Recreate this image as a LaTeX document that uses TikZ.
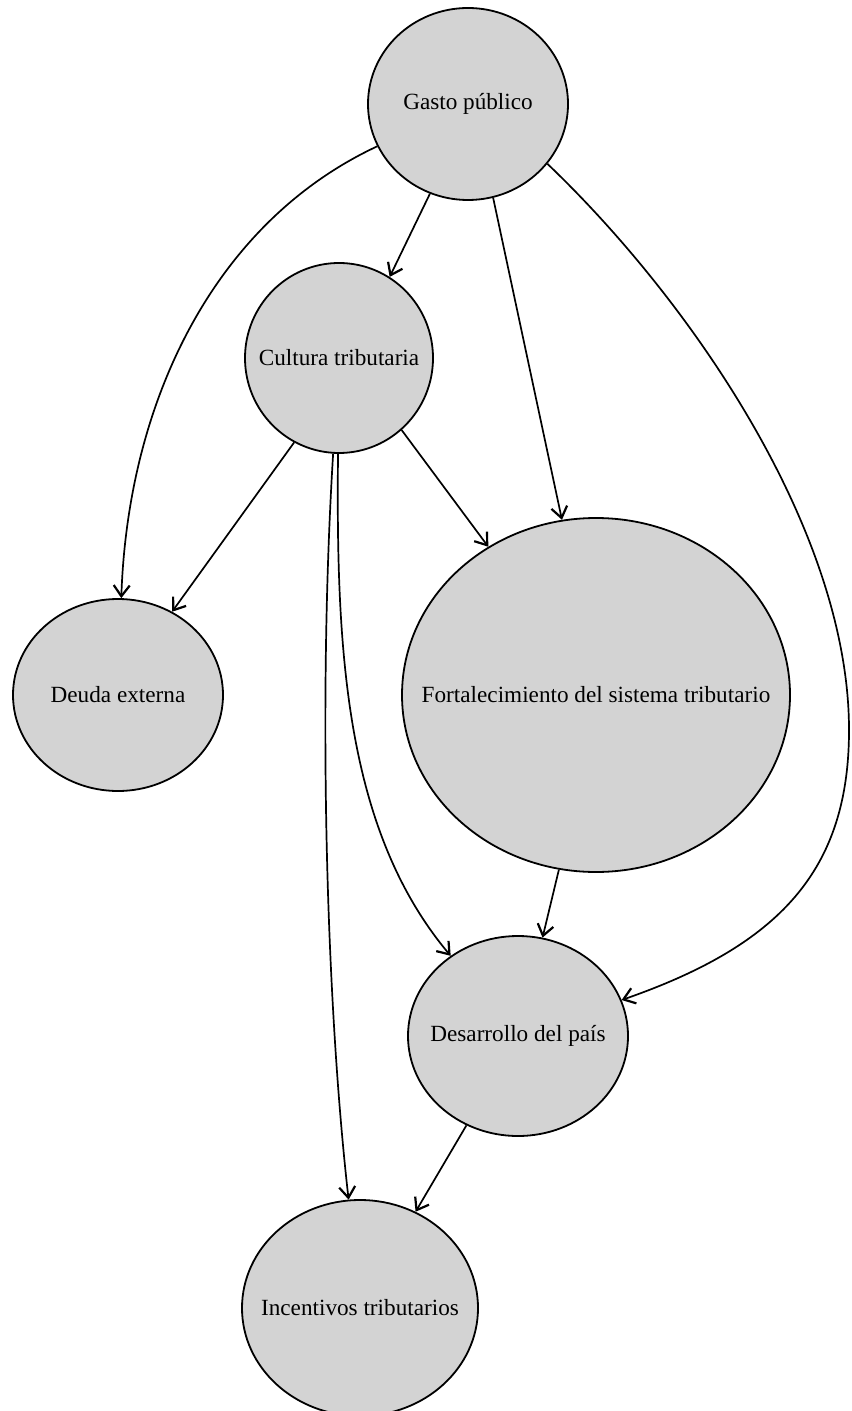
\documentclass[tikz,border=0pt]{standalone}
\usepackage{fontspec}
\setmainfont{Liberation Serif}
\usetikzlibrary{shapes.geometric,arrows.meta}

\definecolor{nodegray}{HTML}{D3D3D3}
\newcommand{\lbl}[1]{\makebox[0pt]{#1}}

\begin{document}
\begin{tikzpicture}[->,>={Straight Barb[length=5.5pt,width=8pt,line width=1.1pt]},x=0.5pt,y=-0.5pt,font=\fontsize{11.6}{14}\selectfont,line width=0.85pt]

    \tikzstyle{bubble}=[ellipse,draw=black,fill=nodegray,line width=0.9pt,inner sep=0pt]

    \useasboundingbox (0,0) rectangle (851,1411);

    \node[bubble,minimum width=100pt,minimum height=96pt]   (gasto)      at (468,104)  {\lbl{Gasto público}};
    \node[bubble,minimum width=94pt,minimum height=95pt]    (cultura)    at (339,358)  {\lbl{Cultura tributaria}};
    \node[bubble,minimum width=105pt,minimum height=96pt]   (deuda)      at (118,695)  {\lbl{Deuda externa}};
    \node[bubble,minimum width=194pt,minimum height=177pt]  (fort)       at (596,695)  {\lbl{Fortalecimiento del sistema tributario}};
    \node[bubble,minimum width=110pt,minimum height=100pt]  (desarrollo) at (518,1036) {\lbl{Desarrollo del país}};
    \node[bubble,minimum width=118pt,minimum height=108pt]  (incentivos) at (360,1308) {\lbl{Incentivos tributarios}};

    \path
    (gasto.247)      edge (cultura.58)
    (gasto.285)      edge (fort.101)
    (cultura.242)    edge (deuda.57)
    (cultura.311)    edge (fort.126)
    (fort.258)       edge (desarrollo.76)
    (desarrollo.240) edge (incentivos.60);

    % curved edges
    \draw (gasto) .. controls (215,222) and (128,400) .. (deuda);
    \draw (gasto.323) .. controls (690,300) and (849,530) .. (849,730)
                      .. controls (849,870) and (780,945) .. (desarrollo);
    \draw (cultura) .. controls (336,650) and (345,830) .. (desarrollo);
    \draw (cultura) .. controls (318,700) and (326,1000) .. (incentivos.96);

\end{tikzpicture}
\end{document}
